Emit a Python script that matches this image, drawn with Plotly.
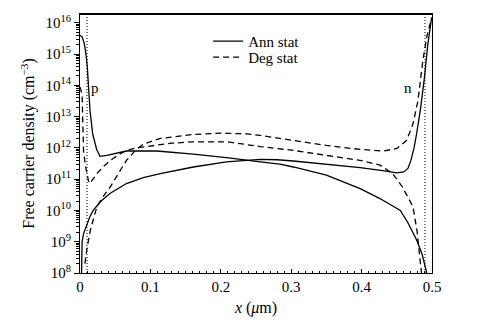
import math
import plotly.graph_objects as go

# ---- data ----
# Ann stat, holes (p)
x_ann_p = [0.0, 0.003, 0.006, 0.0085, 0.0104, 0.0118, 0.0142, 0.018, 0.0213, 0.0237, 0.0284,
           0.038, 0.066, 0.109, 0.161, 0.208, 0.256, 0.284, 0.303, 0.35, 0.398, 0.426, 0.455,
           0.466, 0.478, 0.486, 0.4925]
ann_p = [4.0e15, 3.55e15, 2.24e15, 1.0e15, 3.8e14, 8.7e13, 1.58e13, 2.82e12, 1.58e12, 8.91e11, 5.37e11,
         5.75e11, 7.94e11, 7.94e11, 6.31e11, 4.9e11, 3.55e11, 3.02e11, 2.45e11, 1.35e11, 5.01e10, 2.4e10, 1.0e10,
         3.98e9, 1.15e9, 3.98e8, 1.0e8]

# Ann stat, electrons (n)
x_ann_n = [0.0022, 0.003, 0.005, 0.008, 0.014, 0.019, 0.03, 0.043, 0.066, 0.09, 0.114, 0.161, 0.208,
           0.256, 0.28, 0.303, 0.35, 0.398, 0.435, 0.45, 0.46, 0.466, 0.47, 0.4745, 0.4785, 0.484,
           0.489, 0.494, 0.4995]
ann_n = [1.0e8, 1.0e9, 1.78e9, 2.82e9, 6.31e9, 1.02e10, 2.0e10, 3.55e10, 7.24e10, 1.12e11, 1.51e11, 2.45e11, 3.55e11,
         4.27e11, 4.17e11, 3.8e11, 3.02e11, 2.34e11, 1.82e11, 1.58e11, 1.7e11, 2.24e11, 3.98e11, 1.0e12, 3.16e12, 2.0e13,
         1.58e14, 2.0e15, 1.48e16]

# Deg stat, holes (p)
x_deg_p = [0.0, 0.003, 0.004, 0.005, 0.008, 0.012, 0.014, 0.018, 0.024, 0.033, 0.043, 0.055, 0.066,
           0.08, 0.104, 0.13, 0.16, 0.21, 0.256, 0.303, 0.35, 0.398, 0.426, 0.444, 0.458, 0.473,
           0.479, 0.485]
deg_p = [8.91e13, 5.01e13, 6.31e12, 7.94e11, 2.51e11, 8.91e10, 7.24e10, 1.0e11, 1.51e11, 2.51e11, 3.98e11, 6.03e11, 8.32e11,
         1.0e12, 1.2e12, 1.41e12, 1.55e12, 1.55e12, 1.1e12, 8.32e11, 5.75e11, 3.98e11, 2.82e11, 1.51e11, 5.62e10, 1.32e10,
         2.0e9, 1.0e8]

# Deg stat, electrons (n)
x_deg_n = [0.007, 0.01, 0.015, 0.02, 0.024, 0.033, 0.043, 0.055, 0.066, 0.08, 0.09, 0.114, 0.161,
           0.2, 0.237, 0.256, 0.303, 0.35, 0.398, 0.431, 0.45, 0.464, 0.473, 0.48, 0.487, 0.493, 0.4995]
deg_n = [2.0e8, 6.31e8, 2.51e9, 6.31e9, 1.32e10, 2.82e10, 5.62e10, 1.58e11, 3.98e11, 8.91e11, 1.32e12, 2.0e12, 2.69e12,
         2.95e12, 2.82e12, 2.51e12, 1.74e12, 1.2e12, 8.91e11, 7.94e11, 9.55e11, 1.74e12, 5.89e12, 3.16e13, 6.17e14,
         3.98e15, 1.41e16]

junction_x = [0.01, 0.49]
label_text = ["p", "n"]
label_x = [0.022, 0.466]
label_y = [8e13, 8e13]

x_tick_vals = [0, 0.1, 0.2, 0.3, 0.4, 0.5]
x_tick_text = ["0", "0.1", "0.2", "0.3", "0.4", "0.5"]
y_exponents = [8, 9, 10, 11, 12, 13, 14, 15, 16]

FONT = "Liberation Serif"

fig = go.Figure()
fig.add_trace(go.Scatter(x=x_ann_p, y=ann_p, mode="lines", name="Ann stat",
                         line=dict(color="black", width=1.3), legend="legend"))
fig.add_trace(go.Scatter(x=x_ann_n, y=ann_n, mode="lines", name="Ann stat", showlegend=False,
                         line=dict(color="black", width=1.3), legend="legend"))
fig.add_trace(go.Scatter(x=x_deg_p, y=deg_p, mode="lines", name="Deg stat",
                         line=dict(color="black", width=1.3, dash="6px,4px"), legend="legend2"))
fig.add_trace(go.Scatter(x=x_deg_n, y=deg_n, mode="lines", name="Deg stat", showlegend=False,
                         line=dict(color="black", width=1.3, dash="6px,4px"), legend="legend2"))

for xv in junction_x:
    fig.add_vline(x=xv, line=dict(color="black", width=1, dash="1px,2px"))

for t, lx, ly in zip(label_text, label_x, label_y):
    fig.add_annotation(x=lx, y=math.log10(ly), text=t, showarrow=False,
                       font=dict(family=FONT, size=15, color="black"))

# thicker top frame
fig.add_shape(type="line", xref="paper", yref="paper", x0=0, x1=1, y0=1, y1=1,
              line=dict(color="black", width=2))

y_tick_vals = [10 ** e for e in y_exponents]
y_tick_text = ["10<sup>%d</sup>" % e for e in y_exponents]
y_minor_vals = [m * 10 ** e for e in y_exponents[:-1] for m in range(2, 10)]

legend_style = dict(xanchor="left", yanchor="top", bgcolor="rgba(0,0,0,0)",
                    font=dict(family=FONT, size=15, color="black"))

fig.update_layout(
    width=479, height=324,
    margin=dict(l=80, r=47, t=14, b=51),
    paper_bgcolor="white", plot_bgcolor="white",
    font=dict(family=FONT, size=15, color="black"),
    showlegend=True,
    legend=dict(x=0.364, y=0.958, **legend_style),
    legend2=dict(x=0.364, y=0.896, **legend_style),
    xaxis=dict(range=[0, 0.5], tickmode="array", tickvals=x_tick_vals, ticktext=x_tick_text,
               ticks="inside", ticklen=4, tickcolor="black", showline=True, linecolor="black",
               linewidth=1, mirror=True, showgrid=False, zeroline=False,
               tickfont=dict(size=15),
               minor=dict(dtick=0.01, ticks="inside", ticklen=2.5, tickcolor="black", showgrid=False),
               title=dict(text="<i>x</i> (<i>μ</i>m)", standoff=7, font=dict(size=16))),
    yaxis=dict(type="log", range=[8, 16.28], tickmode="array", tickvals=y_tick_vals, ticktext=y_tick_text,
               ticks="outside", ticklen=5, tickcolor="black", showline=True, linecolor="black",
               linewidth=1, mirror=True, showgrid=False, zeroline=False,
               tickfont=dict(size=15),
               minor=dict(tickmode="array", tickvals=y_minor_vals, ticks="outside", ticklen=3,
                          tickcolor="black", showgrid=False),
               title=dict(text="Free carrier density (cm<sup>−3</sup>)", standoff=6, font=dict(size=16))),
)

fig.write_html("out.html")
